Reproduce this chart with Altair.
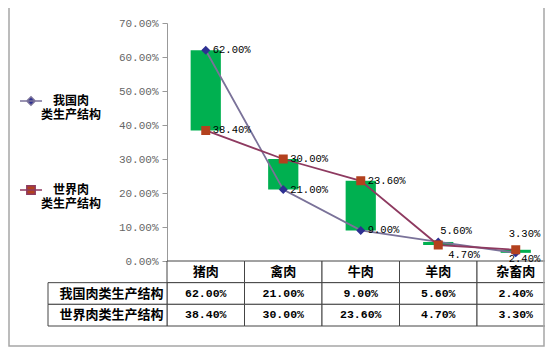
import altair as alt
import pandas as pd

categories = ["猪肉", "禽肉", "牛肉", "羊肉", "杂畜肉"]
series_names = ["我国肉类生产结构", "世界肉类生产结构"]
china = [0.62, 0.21, 0.09, 0.056, 0.024]
world = [0.384, 0.30, 0.236, 0.047, 0.033]
y_ticks = [0, 0.1, 0.2, 0.3, 0.4, 0.5, 0.6, 0.7]

line_colors = ["#7A7299", "#8E3A60"]
marker_colors = ["#2E3092", "#B3411E"]
green = "#00B050"
CJK = "Noto Sans CJK SC"
MONO = "Liberation Mono"

# long table of points; label placement follows a simple rule
rows = []
for i, c in enumerate(categories):
    vals = [china[i], world[i]]
    for s, v in zip(series_names, vals):
        if i < 3:
            pos = "right"
        else:
            pos = "above" if v == max(vals) else "below"
        rows.append({"category": c, "series": s, "value": v, "idx": i, "pos": pos})
long = pd.DataFrame(rows)

bars_df = pd.DataFrame({
    "category": categories,
    "lo": [min(a, b) for a, b in zip(china, world)],
    "hi": [max(a, b) for a, b in zip(china, world)],
})

tbl = []
for i, c in enumerate(categories):
    tbl.append({"category": c, "row": "hdr", "txt": c})
    tbl.append({"category": c, "row": series_names[0], "txt": f"{china[i]*100:.2f}%"})
    tbl.append({"category": c, "row": series_names[1], "txt": f"{world[i]*100:.2f}%"})
table_df = pd.DataFrame(tbl)
lab_df = pd.DataFrame({"col": ["lab", "lab"], "row": series_names})

xs = alt.Scale(domain=categories, range=[0, 387.5], paddingInner=0, paddingOuter=0)
ys = alt.Scale(domain=[0, 0.7], range=[238, 0], nice=False)
rows_scale = alt.Scale(domain=["hdr"] + series_names, range=[238, 303], paddingInner=0, paddingOuter=0)
lab_scale = alt.Scale(domain=["lab"], range=[-119, 0], paddingInner=0, paddingOuter=0)

X = alt.X("category:N", scale=xs, axis=None)

shape_paths = [
    "M-1,0L1,0M0,-0.38L0.38,0L0,0.38L-0.38,0Z",
    "M-1,0L1,0M-0.38,-0.38L0.38,-0.38L0.38,0.38L-0.38,0.38Z",
]
leg = alt.Legend(
    title=None, orient="none", legendX=-148, legendY=66,
    labelExpr="[slice(datum.label, 0, 3), slice(datum.label, 3)]",
    labelFont=CJK, labelFontSize=12, labelFontWeight="bold", labelColor="#000",
    labelAlign="center", labelOffset=28, labelBaseline="middle",
    symbolSize=484, symbolStrokeWidth=1.5, rowPadding=57, labelLimit=200,
)
stroke_enc = alt.Stroke("series:N", scale=alt.Scale(domain=series_names, range=line_colors), legend=leg)
fill_enc = alt.Fill("series:N", scale=alt.Scale(domain=series_names, range=marker_colors), legend=leg)
shape_enc = alt.Shape("series:N", scale=alt.Scale(domain=series_names, range=shape_paths), legend=leg)

bars = alt.Chart(bars_df).mark_bar(width=alt.RelativeBandSize(0.39), color=green).encode(
    x=X,
    y=alt.Y("lo:Q", scale=ys, axis=alt.Axis(
        values=y_ticks, format=".2%", title=None, grid=False,
        labelFont=MONO, labelFontSize=11, labelColor="#666",
        tickColor="#999", domainColor="#999", tickSize=5, labelPadding=4,
    )),
    y2="hi:Q",
)
lines = alt.Chart(long).mark_line(strokeWidth=1.8).encode(
    x=X, y=alt.Y("value:Q", scale=ys), stroke=stroke_enc, order="idx:Q",
)
points = alt.Chart(long).mark_point(filled=True, size=560, opacity=1, strokeWidth=0).encode(
    x=X, y=alt.Y("value:Q", scale=ys), fill=fill_enc, shape=shape_enc, stroke=stroke_enc,
)

def labels(cond, **kw):
    return alt.Chart(long).transform_filter(cond).mark_text(
        font=MONO, fontSize=10.5, color="#000", align="left", baseline="middle", **kw
    ).encode(x=X, y=alt.Y("value:Q", scale=ys), text=alt.Text("value:Q", format=".2%"))

plot = alt.layer(
    bars, lines, points,
    labels("datum.pos == 'right'", dx=7),
    labels("datum.pos == 'above' && datum.idx < 4", dx=2, dy=-11),
    labels("datum.pos == 'below' && datum.idx < 4", dx=10, dy=10),
    labels("datum.pos == 'above' && datum.idx == 4", dx=-7, dy=-16),
    labels("datum.pos == 'below' && datum.idx == 4", dx=-7, dy=6),
)

Yr = alt.Y("row:N", scale=rows_scale, axis=None)
cells = alt.Chart(table_df).mark_rect(fill="white", stroke="#444", strokeWidth=1).encode(x=X, y=Yr)
hdr_txt = alt.Chart(table_df).transform_filter("datum.row == 'hdr'").mark_text(
    font=CJK, fontSize=13, fontWeight="bold", color="#000").encode(x=X, y=Yr, text="txt:N")
val_txt = alt.Chart(table_df).transform_filter("datum.row != 'hdr'").mark_text(
    font=MONO, fontSize=11.5, fontWeight="bold", color="#000").encode(x=X, y=Yr, text="txt:N")
table = alt.layer(cells, hdr_txt, val_txt)

XL = alt.X("col:N", scale=lab_scale, axis=None)
lab_cells = alt.Chart(lab_df).mark_rect(fill="white", stroke="#444", strokeWidth=1).encode(x=XL, y=Yr)
lab_txt = alt.Chart(lab_df).mark_text(
    font=CJK, fontSize=13, fontWeight="bold", color="#000", dx=4).encode(x=XL, y=Yr, text="row:N")
labtable = alt.layer(lab_cells, lab_txt)

frame = alt.Chart(pd.DataFrame({"a": [0]})).mark_rect(
    fill=None, stroke="#a6a6a6", strokeWidth=1.5).encode(
    x=alt.value(-158), x2=alt.value(377), y=alt.value(-16), y2=alt.value(323))

chart = alt.layer(table, labtable, plot, frame).resolve_scale(
    x="independent", y="independent"
).properties(
    width=378, height=303,
    autosize=alt.AutoSizeParams(type="none"),
    padding={"left": 159, "top": 15, "right": 0, "bottom": 21},
).configure_view(stroke=None)

chart.save("out.html", embed_options={"renderer": "svg", "actions": False})
